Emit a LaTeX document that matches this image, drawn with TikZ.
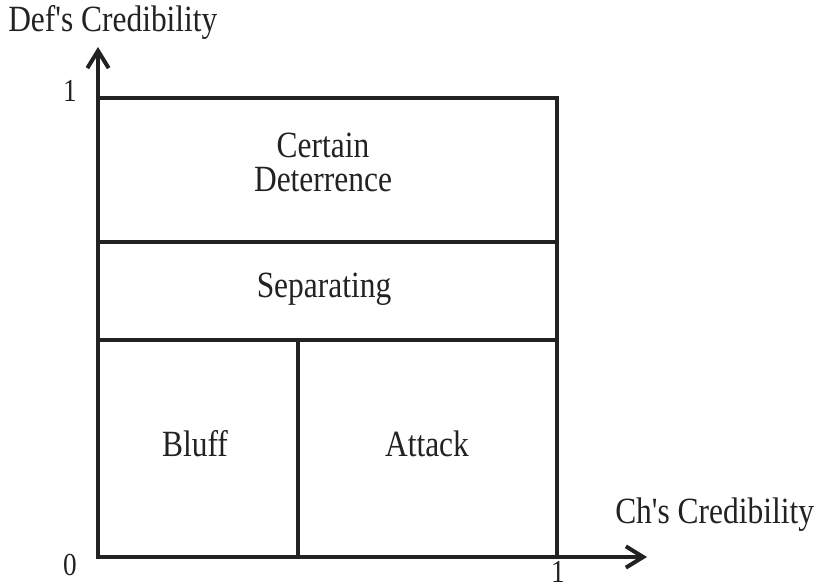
\documentclass[tikz,border=0pt]{standalone}
\usepackage{fontspec}
\setmainfont{Liberation Serif}[FakeStretch=0.85,Ligatures=TeXOff]
\usetikzlibrary{arrows.meta}
\definecolor{ink}{RGB}{34,34,34}
\begin{document}
\begin{tikzpicture}[x=0.75pt,y=-0.75pt,
  frame/.style={draw=ink,line width=3pt},
  axis/.style={draw=ink,line width=3pt,
    {Straight Barb[length=13pt,width=16pt]}-{Straight Barb[length=13pt,width=16pt]}},
  lbl/.style={text=ink,inner sep=0pt,font=\fontsize{27.75}{26}\selectfont},
  num/.style={text=ink,inner sep=0pt,font=\fontsize{24}{26}\selectfont}]
\useasboundingbox (0,0) rectangle (818,585);
% corner points of the diagram
\coordinate (O) at (98,557);
\coordinate (ytip) at (98,47);
\coordinate (xtip) at (647,557);
\coordinate (TL) at (98,98);
\coordinate (TR) at (557,98);
\coordinate (BR) at (557,557);
\coordinate (S1L) at (98,242);
\coordinate (S1R) at (557,242);
\coordinate (S2L) at (98,340);
\coordinate (S2R) at (557,340);
\coordinate (DT) at (298,340);
\coordinate (DB) at (298,557);
% regions
\draw[frame] (TL) -- (TR) -- (BR);
\draw[frame] (S1L) -- (S1R);
\draw[frame] (S2L) -- (S2R);
\draw[frame] (DT) -- (DB);
% axes
\draw[axis] (ytip) -- (O) -- (xtip);
% axis labels and ticks
\node[lbl,anchor=base west] (ylab) at (8,32) {Def's Credibility};
\node[lbl,anchor=base west] (xlab) at (615,523) {Ch's Credibility};
\node[num,anchor=base] (y1) at (70,102) {1};
\node[num,anchor=base] (y0) at (70,575) {0};
\node[num,anchor=base] (x1) at (558,582) {1};
% region names
\node[lbl,anchor=base] (cert) at (323,157) {Certain};
\node[lbl,anchor=base] (det) at (323,191) {Deterrence};
\node[lbl,anchor=base] (sep) at (324,297) {Separating};
\node[lbl,anchor=base] (bluff) at (195,456) {Bluff};
\node[lbl,anchor=base] (att) at (427,456) {Attack};
\end{tikzpicture}
\end{document}
